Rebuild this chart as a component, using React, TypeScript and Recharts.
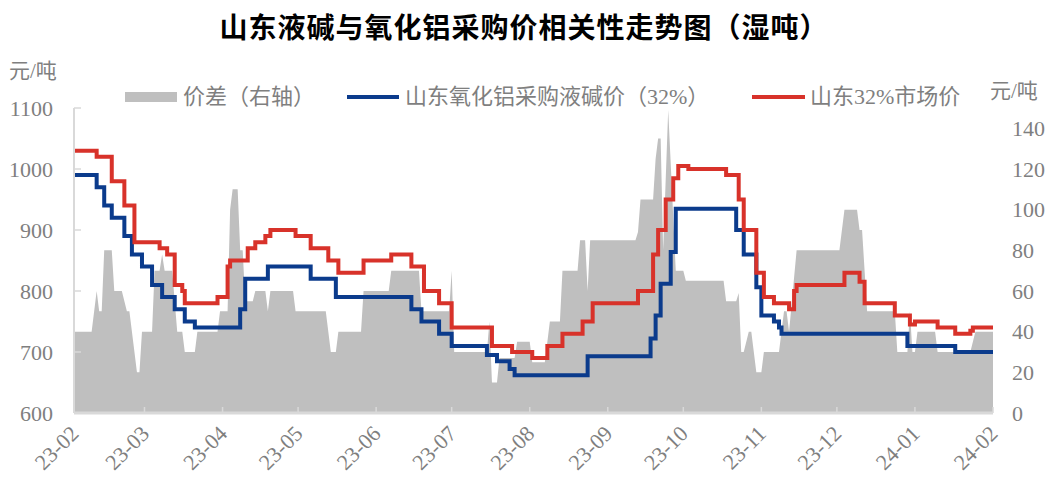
import React from 'react';
import { ComposedChart, Area, Line, XAxis, YAxis } from 'recharts';

// x values are day offsets counted from 2023-02-01
const monthTicks = [0, 28, 59, 89, 120, 150, 181, 212, 242, 273, 303, 334, 365];
const monthLabels = ['23-02', '23-03', '23-04', '23-05', '23-06', '23-07', '23-08', '23-09', '23-10', '23-11', '23-12', '24-01', '24-02'];
const leftTicks = [600, 700, 800, 900, 1000, 1100];
const rightTicks = [0, 20, 40, 60, 80, 100, 120, 140];

// 价差（右轴）
const priceGap: [number, number][] = [
  [0, 40], [7, 40], [9, 60], [10, 50], [11, 50], [12, 80], [15, 80], [16, 60], [19, 60], [21, 50], [22, 50],
  [25, 20], [26, 20], [27, 40], [31, 40], [32, 70], [34, 70], [35, 78], [36, 70], [39, 70], [41, 40], [43, 40],
  [44, 30], [48, 30], [49, 40], [57, 40], [58, 50], [61, 50], [62, 100], [63, 110], [65, 110], [66, 80], [67, 80],
  [68, 55], [71, 55], [72, 60], [76, 60], [77, 50], [78, 60], [87, 60], [88, 50], [100, 50], [102, 30], [104, 30],
  [105, 40], [114, 40], [115, 60], [125, 60], [126, 70], [137, 70], [138, 50], [149, 50], [150, 70], [151, 30],
  [164, 30], [165, 45], [166, 15], [168, 15], [169, 27], [175, 27], [176, 35], [181, 35], [182, 25], [187, 25],
  [189, 45], [193, 45], [194, 70], [200, 70], [201, 85], [203, 85], [204, 60], [205, 85], [223, 85], [224, 89],
  [225, 105], [230, 105], [231, 125], [232, 135], [233, 135], [234, 80], [236, 149], [239, 70], [242, 70],
  [243, 65], [258, 65], [259, 55], [263, 55], [264, 59], [265, 30], [266, 30], [268, 40], [269, 40], [271, 20],
  [273, 20], [274, 30], [280, 30], [282, 50], [283, 50], [284, 40], [287, 80], [304, 80], [306, 100], [311, 100],
  [312, 90], [313, 90], [315, 50], [326, 50], [327, 30], [331, 30], [332, 50], [333, 30], [334, 30], [335, 40],
  [342, 40], [343, 30], [356, 30], [358, 40], [365, 40],
];

// 山东氧化铝采购液碱价（32%）
const alumPrice: [number, number][] = [
  [0, 990], [9, 970], [12, 940], [15, 920], [20, 890], [23, 860], [27, 840], [31, 810], [35, 790], [40, 770],
  [44, 750], [48, 740], [66, 770], [68, 820], [77, 840], [94, 820], [104, 790], [134, 770], [138, 750],
  [145, 730], [150, 710], [164, 695], [168, 685], [173, 672], [175, 662], [204, 693], [229, 722], [231, 760],
  [233, 812], [237, 864], [239, 935], [263, 900], [266, 860], [271, 806], [273, 760], [278, 750], [280, 740],
  [281, 730], [331, 710], [350, 700], [365, 700],
];

// 山东32%市场价
const marketPrice: [number, number][] = [
  [0, 1030], [9, 1020], [15, 980], [20, 940], [24, 880], [34, 870], [37, 860], [40, 810], [43, 800], [44, 780],
  [57, 790], [61, 840], [62, 850], [69, 870], [72, 880], [76, 890], [78, 900], [88, 890], [94, 870], [101, 850],
  [105, 830], [115, 850], [126, 860], [134, 840], [139, 800], [145, 780], [150, 740], [166, 710], [174, 700],
  [182, 690], [188, 710], [194, 730], [202, 750], [206, 780], [224, 800], [230, 860], [232, 900], [235, 950],
  [238, 985], [240, 1005], [244, 1000], [259, 990], [264, 950], [266, 900], [271, 830], [274, 790], [278, 780],
  [284, 770], [286, 800], [287, 810], [306, 830], [312, 815], [314, 780], [326, 760], [332, 745], [334, 750],
  [343, 740], [350, 730], [356, 735], [357, 740], [365, 740],
];

const rowMap = new Map<number, any>();
const put = (list: [number, number][], key: string) =>
  list.forEach(([d, v]) => {
    const r = rowMap.get(d) ?? { day: d };
    r[key] = v;
    rowMap.set(d, r);
  });
put(priceGap, 'gap');
put(alumPrice, 'alum');
put(marketPrice, 'market');
const rows = [...rowMap.values()].sort((a, b) => a.day - b.day);

const GREY_TEXT = '#7f7f7f';
const AXIS = '#d9d9d9';
const BLUE = '#0b3b8c';
const RED = '#d8322a';
const SERIF = '"Liberation Serif", "Noto Sans CJK SC", serif';

const XTick = ({ x, y, payload }: any) => {
  const i = monthTicks.indexOf(payload.value);
  const ax = x + 6;
  const ay = y + 22;
  return (
    <g>
      <line x1={x} y1={y} x2={x} y2={y - 6} stroke={AXIS} strokeWidth={1.5} />
      <text x={ax} y={ay} transform={`rotate(-45 ${ax} ${ay})`} textAnchor="end" fill={GREY_TEXT} fontSize={22} fontFamily={SERIF}>
        {monthLabels[i]}
      </text>
    </g>
  );
};

const LeftTick = ({ x, y, payload }: any) => (
  <g>
    <line x1={x} y1={y} x2={x + 7} y2={y} stroke={AXIS} strokeWidth={1.5} />
    <text x={x - 21} y={y} dy="0.35em" textAnchor="end" fill={GREY_TEXT} fontSize={22} fontFamily={SERIF}>
      {payload.value}
    </text>
  </g>
);

const RightTick = ({ x, y, payload }: any) => (
  <text x={x} y={y} dy="0.35em" textAnchor="start" fill={GREY_TEXT} fontSize={22} fontFamily={SERIF}>
    {payload.value}
  </text>
);

const label = (text: string, left: number, top: number, size = 22): React.CSSProperties => ({
  position: 'absolute',
  left,
  top,
  fontSize: size,
  lineHeight: `${size}px`,
  color: GREY_TEXT,
  fontFamily: SERIF,
  whiteSpace: 'nowrap',
});

export default function App() {
  return (
    <div style={{ position: 'absolute', left: 0, top: 0, width: 1048, height: 484, background: '#fff', overflow: 'hidden' }}>
      <div
        style={{
          position: 'absolute', left: 0, top: 12, width: 1048, textAlign: 'center', fontSize: 28, lineHeight: '28px',
          fontWeight: 700, letterSpacing: 1, color: '#000', fontFamily: '"Noto Sans CJK SC", sans-serif',
        }}
      >
        山东液碱与氧化铝采购价相关性走势图（湿吨）
      </div>

      <div style={label('元/吨', 9, 61, 21)}>元/吨</div>
      <div style={label('元/吨', 990, 81, 21)}>元/吨</div>

      <div style={{ position: 'absolute', left: 125, top: 92, width: 52, height: 10, background: '#bfbfbf' }} />
      <div style={label('', 183, 86)}>价差（右轴）</div>
      <div style={{ position: 'absolute', left: 347, top: 95, width: 52, height: 4, background: BLUE }} />
      <div style={label('', 405, 86)}>山东氧化铝采购液碱价（32%）</div>
      <div style={{ position: 'absolute', left: 752, top: 95, width: 53, height: 4, background: RED }} />
      <div style={label('', 810, 86)}>山东32%市场价</div>

      <ComposedChart width={1048} height={484} data={rows} margin={{ top: 108, right: 0, bottom: 0, left: 0 }}>
        <XAxis
          type="number"
          dataKey="day"
          domain={[0, 365]}
          ticks={monthTicks}
          interval={0}
          height={71}
          tickSize={0}
          tickMargin={0}
          tickLine={false}
          axisLine={{ stroke: AXIS, strokeWidth: 3 }}
          tick={<XTick />}
        />
        <YAxis
          yAxisId="left"
          orientation="left"
          width={74}
          domain={[600, 1100]}
          ticks={leftTicks}
          interval={0}
          tickSize={0}
          tickMargin={0}
          tickLine={false}
          axisLine={{ stroke: AXIS, strokeWidth: 2 }}
          tick={<LeftTick />}
          allowDataOverflow
        />
        <YAxis
          yAxisId="right"
          orientation="right"
          width={55}
          domain={[0, 150]}
          ticks={rightTicks}
          interval={0}
          tickSize={0}
          tickMargin={19}
          tickLine={false}
          axisLine={false}
          tick={<RightTick />}
          allowDataOverflow
        />
        <Area
          yAxisId="right"
          dataKey="gap"
          type="linear"
          fill="#bfbfbf"
          fillOpacity={1}
          stroke="none"
          connectNulls
          isAnimationActive={false}
        />
        <Line yAxisId="left" dataKey="alum" type="stepAfter" stroke={BLUE} strokeWidth={4} dot={false} connectNulls isAnimationActive={false} />
        <Line yAxisId="left" dataKey="market" type="stepAfter" stroke={RED} strokeWidth={4} dot={false} connectNulls isAnimationActive={false} />
      </ComposedChart>
    </div>
  );
}
